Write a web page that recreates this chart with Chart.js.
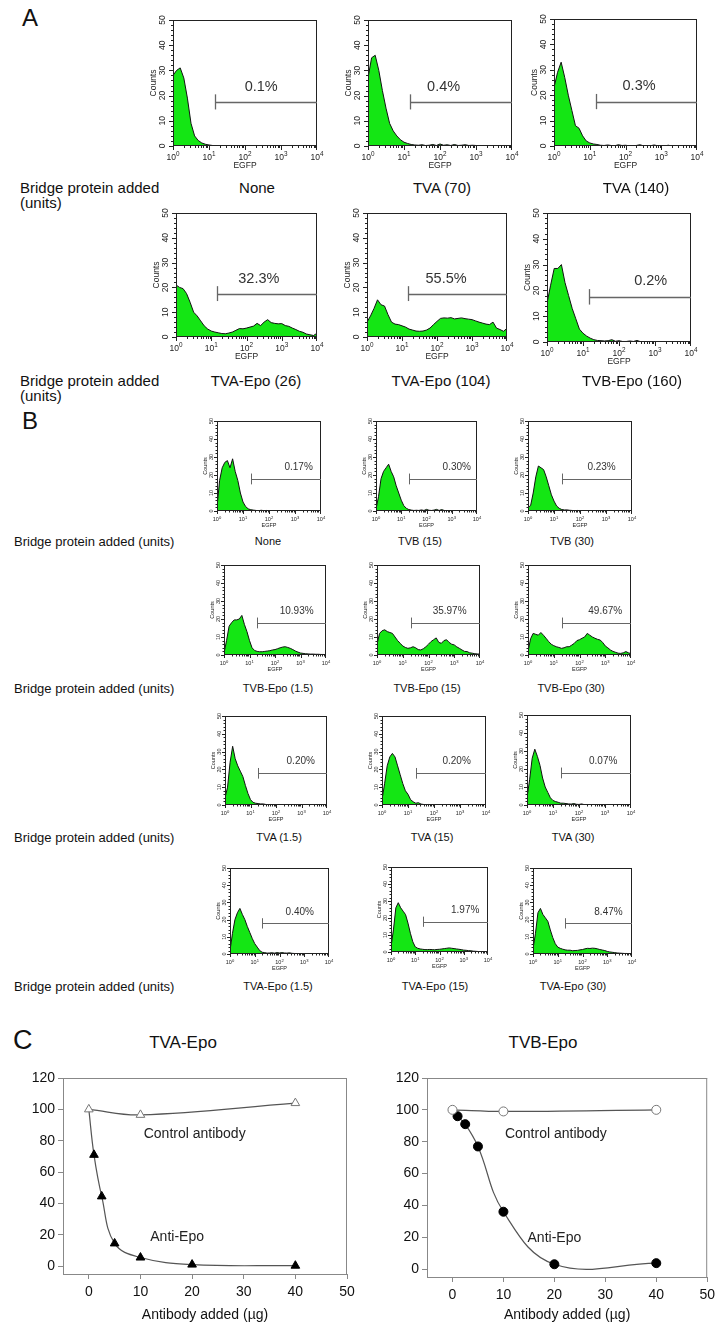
<!DOCTYPE html>
<html>
<head>
<meta charset="utf-8">
<script src="https://cdn.jsdelivr.net/npm/chart.js@4.4.1/dist/chart.umd.min.js"></script>
<style>
  body { margin: 0; background: #fff; width: 718px; height: 1324px; position: relative; overflow: hidden;
         font-family: "Liberation Sans", Arial, sans-serif; color: #111; }
  .t { position: absolute; white-space: nowrap; line-height: 1; }
  canvas { position: absolute; }
</style>
</head>
<body>
<script>
// ---- histogram counts, 10 bins per decade from 10^0 to 10^4 (41 bins) ----
const histNone = [28,30,31,27,19,9,4,2.2,1.2,0.7, 0.4,0.2,0.1,0,0,0,0,0,0,0, 0,0,0,0,0,0,0,0,0,0, 0,0,0,0,0,0,0,0,0,0, 0];
const histTVA70 = [27,35,36,30,22,15,9,6,4,2.5, 1.5,1,0.6,0.4,0.3,0.5,0.2,0.3,0.6,0.2, 0.8,0.3,0.5,0.2,0.6,0.2,0.3,0.5,0.2,0.3, 0.2,0.1,0.2,0.1,0,0,0,0,0,0, 0];
const histTVA140 = [23,29,33,27,20,14,8,7,4,2, 1.2,0.8,0.6,0.3,0.2,0.4,0.2,0.1,0.5,0.2, 0.3,0.1,0.1,0.2,0.5,0.1,0.1,0.1,0.4,0.1, 0.1,0.1,0.3,0,0,0,0,0,0,0, 0];
const histTVAEpo26 = [21,20,19.5,17.5,14,10,8.5,6.5,4.5,3.2, 2.4,2,1.7,1.4,1.3,1.6,2,2.7,3.4,3.3, 3.6,4,4.4,5.5,4.6,6,7,5.8,5.5,5.3, 5.4,4.6,4.3,3.6,3,2.3,1.9,1.2,0.9,0.6, 1.5];
const histTVAEpo104 = [6,8.5,11.5,15,13,12.5,9,6,5.2,5, 4.5,4,3.2,2.8,2.4,2.3,2.4,2.8,3.6,5, 6.3,7.5,7.7,7.6,7.8,7.3,7.5,7.7,7.4,7.2, 7,6.5,6,5.6,5.2,5,6,3.6,3,2.3, 3.5];
const histTVBEpo160 = [15,22,28.5,28.5,30,23,18,13,9,5, 3.4,2.3,1.5,0.9,0.6,0.5,0.4,0.5,0.9,0.3, 0.5,0.2,0.2,0.4,0.2,0.6,0.1,0.1,0.1,0.1, 0,0,0,0,0,0,0,0,0,0, 0];

const histB_None = [2,17,24,27,28,24,29,22,17,10, 5,2.5,1.2,0.7,0.5,0.3,0.2,0.4,0.2,0.3, 0.1,0.2,0.1,0.1,0.2,0.1,0,0,0,0, 0,0,0,0,0,0,0,0,0,0, 0];
const histB_TVB15 = [1,8,18,22,24,26,22,19,14,10, 6,3,1.5,0.8,0.5,0.3,0.4,0.3,0.6,0.3, 0.9,0.4,0.3,0.5,0.9,0.3,0.8,0.3,0.2,0.1, 0,0,0,0,0,0,0,0,0,0, 0];
const histB_TVB30 = [2,3,10,19,25,24,23,19,14,9, 5.5,2.8,1.5,0.8,0.6,0.6,0.4,0.3,0.2,0.3, 0.2,0.1,0.1,0.2,0.1,0,0,0,0,0, 0,0,0,0,0,0,0,0,0,0, 0];
const histB_TVBEpo1 = [1,8,16,18,19.5,19.5,20,22,17,13, 8,4,2.5,2,1.8,1.8,2,2.2,2.4,2.8, 3,3.5,4,4.4,4.6,4.2,3.7,3,2.2,1.6, 1.1,0.9,0.7,0.6,0.5,0.5,0.4,0.4,0.3,0.3, 0.2];
const histB_TVBEpo15 = [6,12,13.5,14,13,12.5,12,10,8,6.5, 5,4.2,3.7,4,4.6,4,3,2.8,3.5,4.6, 6,7.5,8.5,9.5,7,6.5,8,8.5,7,6, 5.6,4.5,3.7,2.8,2,1.9,1.2,1,0.7,0.6, 0.5];
const histB_TVBEpo30 = [2,9,12,11.5,11,12.5,11,9.3,7.5,6, 5.2,4.6,4.2,3.7,4,4.6,4.6,5.5,6.5,8, 8.5,9.3,10,12,11,10,9.3,8.7,8.3,7, 5,4,2.8,2,1.5,1,0.9,1.2,1.9,1.2, 0.8];
const histB_TVA1 = [4,10,24,33,26,22,19,16,11,6.5, 3,1.5,1,0.8,0.6,0.6,0.3,0.2,0.3,0.1, 0.2,0.1,0,0,0,0,0,0,0,0, 0,0,0,0,0,0,0,0,0,0, 0];
const histB_TVA15 = [3,12,22,27,29,27,22,17,12,8, 6,3,1.8,1,1.3,0.5,0.3,0.2,0.3,0.1, 0.1,0,0,0,0,0,0,0,0,0, 0,0,0,0,0,0,0,0,0,0, 0];
const histB_TVA30 = [4,14,26,31,27,22,15,10,7,4, 2.5,1.9,1.5,1,1,0.8,0.6,0.5,0.8,0.4, 0.3,0.6,0.2,0.1,0,0,0,0,0,0, 0,0,0,0,0,0,0,0,0,0, 0];
const histB_TVAEpo1 = [2,12,20,24,26.5,23,20,16,12.5,9, 6,4,2,1,0.8,0.5,0.6,0.7,0.5,0.8, 0.6,0.8,0.6,0.5,0.7,0.4,0.3,0.2,0.2,0.1, 0,0,0,0,0,0,0,0,0,0, 0];
const histB_TVAEpo15 = [3,13,26,29,26,24,22,17,11,6, 3,2.2,1.8,1.6,1.4,1.4,1.5,1.4,1.3,1.5, 1.6,1.8,2,2.2,2.4,2.2,2,1.8,1.6,1.4, 1.1,1,0.8,0.7,0.5,0.4,0.3,0.2,0.2,0.1, 0.1];
const histB_TVAEpo30 = [3,12,24,26.5,23,21,19,14,9.5,6, 4,3.3,2.8,2.4,2.2,2.2,1.9,2,2.1,2.4, 2.6,3,3.3,3.2,3.4,3.3,3,2.6,2.3,2, 1.5,1.2,1,0.8,0.6,0.5,0.4,0.3,0.3,0.2, 0.2];

const gatePctA = ["0.1%", "0.4%", "0.3%", "32.3%", "55.5%", "0.2%"];
const gatePctB = ["0.17%", "0.30%", "0.23%", "10.93%", "35.97%", "49.67%", "0.20%", "0.20%", "0.07%", "0.40%", "1.97%", "8.47%"];
const countTicks = [0, 10, 20, 30, 40, 50];
const egfpDecades = [0, 1, 2, 3, 4];

// ---- panel C ----
const doseControl = [0, 10, 40];
const doseAnti = [0, 1, 2.5, 5, 10, 20, 40];
const tvaControl = [100, 96.5, 104];
const tvaAnti = [100, 71, 44.5, 14.5, 5.5, 1, 0.3];
const tvbControl = [100, 99, 100];
const tvbAnti = [100, 96, 91, 77, 36, 3, 3.7];
const doseTicks = [0, 10, 20, 30, 40, 50];
const pctTicks = [0, 20, 40, 60, 80, 100, 120];

const FAM = '"Liberation Sans", Arial, sans-serif';
const GREEN = '#14e614';
const binsPerDecade = 10;

function text(str, x, y, size, center, extra) {
  const d = document.createElement('div');
  d.className = 't';
  d.textContent = str;
  d.style.fontSize = size + 'px';
  d.style.left = x + 'px';
  d.style.top = y + 'px';
  d.style.transform = center ? 'translate(-50%,-50%)' : 'translateY(-50%)';
  if (extra) d.style.cssText += extra;
  document.body.appendChild(d);
}

function addCanvas(left, top, w, h) {
  const c = document.createElement('canvas');
  c.width = w; c.height = h;
  c.style.cssText = `left:${left}px;top:${top}px;width:${w}px;height:${h}px`;
  document.body.appendChild(c);
  return c;
}

function seg(ctx, x1, y1, x2, y2) {
  ctx.beginPath(); ctx.moveTo(x1, y1); ctx.lineTo(x2, y2); ctx.stroke();
}

function drawPow(ctx, x, y, exp, fs) {
  ctx.font = fs + 'px ' + FAM;
  const w1 = ctx.measureText('10').width;
  ctx.font = (fs * 0.75) + 'px ' + FAM;
  const w2 = ctx.measureText(exp).width;
  const x0 = x - (w1 + w2) / 2;
  ctx.textAlign = 'left';
  ctx.textBaseline = 'alphabetic';
  ctx.font = fs + 'px ' + FAM;
  ctx.fillText('10', x0, y);
  ctx.font = (fs * 0.75) + 'px ' + FAM;
  ctx.fillText(exp, x0 + w1, y - fs * 0.45);
}

// frame, ticks, labels and gate of a flow histogram
const histFrame = {
  id: 'histFrame',
  afterDatasetsDraw(chart, args, o) {
    const { ctx, chartArea: a, scales: { x, y } } = chart;
    const s = o.small;
    const fs = s ? 5.5 : 8.5;
    ctx.save();
    ctx.strokeStyle = '#222';
    ctx.fillStyle = '#222';
    ctx.lineWidth = 1;
    ctx.strokeRect(a.left + 0.5, a.top + 0.5, a.right - a.left - 1, a.bottom - a.top - 1);
    const maj = s ? 3 : 4, mnr = s ? 1.5 : 2;
    for (let v = 0; v <= 50; v += 2) {
      const py = Math.round(y.getPixelForValue(v)) + 0.5;
      seg(ctx, a.left - (v % 10 === 0 ? maj : mnr), py, a.left, py);
    }
    for (let d = 0; d < 4; d++) {
      for (let k = 1; k <= 9; k++) {
        const px = Math.round(x.getPixelForValue(k * Math.pow(10, d))) + 0.5;
        seg(ctx, px, a.bottom, px, a.bottom + (k === 1 ? maj : mnr));
      }
    }
    seg(ctx, a.right - 0.5, a.bottom, a.right - 0.5, a.bottom + maj);
    ctx.font = fs + 'px ' + FAM;
    ctx.textAlign = 'center';
    ctx.textBaseline = 'middle';
    countTicks.forEach(v => {
      ctx.save();
      ctx.translate(a.left - (s ? 6 : 10), y.getPixelForValue(v));
      ctx.rotate(-Math.PI / 2);
      ctx.fillText(String(v), 0, 0);
      ctx.restore();
    });
    ctx.save();
    ctx.translate(a.left - (s ? 11.5 : 19), (a.top + a.bottom) / 2);
    ctx.rotate(-Math.PI / 2);
    ctx.fillText('Counts', 0, 0);
    ctx.restore();
    egfpDecades.forEach(d => {
      drawPow(ctx, x.getPixelForValue(Math.pow(10, d)), a.bottom + (s ? 10 : 14), String(d), fs);
    });
    ctx.font = fs + 'px ' + FAM;
    ctx.textAlign = 'center';
    ctx.textBaseline = 'middle';
    ctx.fillText('EGFP', (a.left + a.right) / 2, a.bottom + (s ? 14 : 20));
    // gate
    const g = o.gate;
    const gx = Math.round(x.getPixelForValue(g.from)) + 0.5;
    const gy = Math.round(y.getPixelForValue(g.y)) + 0.5;
    ctx.strokeStyle = '#666';
    ctx.lineWidth = s ? 1 : 1.3;
    seg(ctx, gx, gy, a.right, gy);
    seg(ctx, gx, y.getPixelForValue(g.y - 3), gx, y.getPixelForValue(g.y + 3));
    ctx.fillStyle = '#333';
    ctx.font = (s ? 10 : 14.5) + 'px ' + FAM;
    ctx.fillText(g.text, x.getPixelForValue(g.at), y.getPixelForValue(g.ty));
    ctx.restore();
  }
};

function histogram(box, counts, gate, small) {
  const m = small ? { l: 22, t: 5, r: 6, b: 20 } : { l: 34, t: 8, r: 8, b: 28 };
  const [x1, y1, x2, y2] = box;
  const cv = addCanvas(x1 - m.l, y1 - m.t, x2 - x1 + m.l + m.r, y2 - y1 + m.t + m.b);
  const pts = counts.map((c, i) => ({ x: Math.pow(10, i / binsPerDecade), y: c }));
  return new Chart(cv, {
    type: 'line',
    data: {
      datasets: [{
        data: pts, fill: 'origin', backgroundColor: GREEN, borderColor: '#111',
        borderWidth: 1, pointRadius: 0, tension: 0
      }]
    },
    options: {
      responsive: false, animation: false, events: [],
      layout: { padding: { left: m.l, top: m.t, right: m.r, bottom: m.b } },
      scales: {
        x: { type: 'logarithmic', min: 1, max: 10000, display: false },
        y: { type: 'linear', min: 0, max: 50, display: false }
      },
      plugins: { legend: { display: false }, tooltip: { enabled: false }, histFrame: { small, gate } }
    },
    plugins: [histFrame]
  });
}

// ---------- Panel A ----------
text('A', 22, 18, 24);
const boxesA = [[173, 20, 317, 146], [368, 20, 512, 146], [554, 19, 697, 146],
                [176, 213, 317, 337], [367, 213, 507, 337], [547, 213, 691, 342]];
const histsA = [histNone, histTVA70, histTVA140, histTVAEpo26, histTVAEpo104, histTVBEpo160];
const labelAtA = [2.45, 2.1, 2.38, 2.35, 2.26, 2.88];
histsA.forEach((h, i) => histogram(boxesA[i], h,
  { from: Math.pow(10, 1.17), y: 17.5, text: gatePctA[i], at: Math.pow(10, labelAtA[i]), ty: 23.5 }, false));

text('Bridge protein added', 20, 187, 15);
text('(units)', 20, 202, 15);
text('None', 257, 187, 15, true);
text('TVA (70)', 442, 187, 15, true);
text('TVA (140)', 636, 187, 15, true);
text('Bridge protein added', 20, 380, 15);
text('(units)', 20, 395, 15);
text('TVA-Epo (26)', 256, 380, 15, true);
text('TVA-Epo (104)', 441, 380, 15, true);
text('TVB-Epo (160)', 632, 380, 15, true);

// ---------- Panel B ----------
text('B', 22, 421, 24);
const boxesB = [[217, 421, 321, 511], [376, 421, 477, 511], [528, 421, 632, 511],
                [224, 565, 326, 655], [377, 565, 480, 655], [528, 565, 631, 655],
                [225, 716, 327, 805], [382, 716, 486, 805], [527, 715, 631, 805],
                [230, 868, 329, 954], [391, 867, 488, 952], [533, 868, 632, 954]];
const histsB = [histB_None, histB_TVB15, histB_TVB30, histB_TVBEpo1, histB_TVBEpo15, histB_TVBEpo30,
                histB_TVA1, histB_TVA15, histB_TVA30, histB_TVAEpo1, histB_TVAEpo15, histB_TVAEpo30];
const labelAtB = [3.14, 3.2, 2.83, 2.85, 2.82, 3.0, 2.97, 2.87, 2.93, 2.82, 3.06, 3.05];
histsB.forEach((h, i) => histogram(boxesB[i], h,
  { from: Math.pow(10, 1.31), y: 17.8, text: gatePctB[i], at: Math.pow(10, labelAtB[i]), ty: 24.5 }, true));

const rowYB = [541, 688, 837, 986];
const colLabelsB = [["None", "TVB (15)", "TVB (30)"], ["TVB-Epo (1.5)", "TVB-Epo (15)", "TVB-Epo (30)"],
                    ["TVA (1.5)", "TVA (15)", "TVA (30)"], ["TVA-Epo (1.5)", "TVA-Epo (15)", "TVA-Epo (30)"]];
const colXB = [[268, 420, 572], [278, 427, 571], [279, 432, 573], [278, 435, 573]];
rowYB.forEach((ry, r) => {
  text('Bridge protein added (units)', 14, ry, 13);
  colLabelsB[r].forEach((l, c) => text(l, colXB[r][c], ry, 11, true));
});

// ---------- Panel C ----------
text('C', 13, 1040, 27);
text('TVA-Epo', 183, 1042, 17, true);
text('TVB-Epo', 543, 1042, 17, true);

const doseFrame = {
  id: 'doseFrame',
  afterDatasetsDraw(chart, args, o) {
    const { ctx, chartArea: a, scales: { x, y } } = chart;
    ctx.save();
    ctx.strokeStyle = '#888';
    ctx.lineWidth = 1;
    seg(ctx, a.left, a.top + 0.5, a.right, a.top + 0.5);
    seg(ctx, a.right - 0.5, a.top, a.right - 0.5, a.bottom);
    ctx.fillStyle = '#222';
    ctx.font = '14px ' + FAM;
    ctx.textAlign = 'center';
    ctx.textBaseline = 'middle';
    o.notes.forEach(n => ctx.fillText(n.text, x.getPixelForValue(n.x), y.getPixelForValue(n.y)));
    ctx.restore();
  }
};

function doseChart(cv, yW, xH, pad, ctl, anti, marker, r, notes) {
  const tickFont = { size: 14, family: FAM };
  return new Chart(cv, {
    type: 'scatter',
    data: {
      datasets: [
        { data: doseControl.map((d, i) => ({ x: d, y: ctl[i] })), showLine: true, tension: 0.4,
          borderColor: '#555', borderWidth: 1.2, pointStyle: marker, pointRadius: r,
          pointBackgroundColor: '#fff', pointBorderColor: '#777', pointBorderWidth: 1 },
        { data: doseAnti.map((d, i) => ({ x: d, y: anti[i] })), showLine: true, tension: 0.4,
          borderColor: '#555', borderWidth: 1.2, pointStyle: marker,
          pointRadius: c => (c.dataIndex === 0 ? 0 : r),
          pointBackgroundColor: '#000', pointBorderColor: '#000', pointBorderWidth: 1 }
      ]
    },
    options: {
      responsive: false, animation: false, events: [],
      layout: { padding: pad },
      scales: {
        x: {
          type: 'linear', min: -5, max: 50,
          afterBuildTicks: s => { s.ticks = doseTicks.map(v => ({ value: v })); },
          afterFit: s => { s.height = xH; },
          grid: { drawOnChartArea: false, drawTicks: true, tickLength: 5, color: '#888' },
          border: { color: '#888' },
          ticks: { color: '#111', font: tickFont, padding: 5, maxRotation: 0 },
          title: { display: true, text: 'Antibody added (µg)', color: '#111', font: tickFont, padding: { top: 0, bottom: 0 } }
        },
        y: {
          type: 'linear', min: -5, max: 120,
          afterBuildTicks: s => { s.ticks = pctTicks.map(v => ({ value: v })); },
          afterFit: s => { s.width = yW; },
          grid: { drawOnChartArea: false, drawTicks: true, tickLength: 5, color: '#888' },
          border: { color: '#888' },
          ticks: { color: '#111', font: tickFont, padding: 3 }
        }
      },
      plugins: { legend: { display: false }, tooltip: { enabled: false }, doseFrame: { notes } }
    },
    plugins: [doseFrame]
  });
}

doseChart(addCanvas(0, 1060, 360, 264), 63, 50, { top: 18, right: 13, left: 0, bottom: 0 },
  tvaControl, tvaAnti, 'triangle', 5,
  [{ text: 'Control antibody', x: 20.5, y: 84.5 }, { text: 'Anti-Epo', x: 17.1, y: 18.5 }]);
doseChart(addCanvas(360, 1060, 360, 264), 67, 47, { top: 18, right: 8, left: 0, bottom: 0 },
  tvbControl, tvbAnti, 'circle', 4.5,
  [{ text: 'Control antibody', x: 20.3, y: 85 }, { text: 'Anti-Epo', x: 20, y: 19.5 }]);
</script>
</body>
</html>
